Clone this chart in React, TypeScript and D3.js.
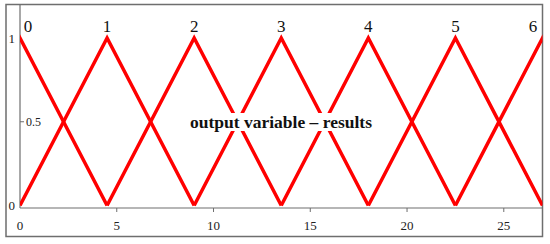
import React, { useRef, useEffect } from "react";
import * as d3 from "d3";

// membership function terms: left foot, peak, right foot
const termLabels = ["0", "1", "2", "3", "4", "5", "6"];
const termLeft = [-4.5, 0, 4.5, 9, 13.5, 18, 22.5];
const termPeak = [0, 4.5, 9, 13.5, 18, 22.5, 27];
const termRight = [4.5, 9, 13.5, 18, 22.5, 27, 31.5];

const xTicks = [0, 5, 10, 15, 20, 25];
const yTicks = [0, 0.5, 1];
const xDomain = [0, 27];
const yDomain = [0, 1];
const centerTitle = "output variable \u2013 results";

function App() {
  const ref = useRef<SVGSVGElement>(null);

  useEffect(() => {
    const svg = d3.select(ref.current);
    svg.selectAll("*").remove();

    const left = 20, right = 542.5, top = 38, bottom = 205.5;
    const x = d3.scaleLinear().domain(xDomain).range([left, right]);
    const y = d3.scaleLinear().domain(yDomain).range([bottom, top]);
    const frameColor = "#6e6e6e";
    const serif = "'Times New Roman', 'Liberation Serif', serif";

    // outer frame
    svg.append("rect")
      .attr("x", 6).attr("y", 4.5)
      .attr("width", 536.5).attr("height", 232)
      .attr("fill", "white")
      .attr("stroke", frameColor).attr("stroke-width", 1.5);

    svg.append("clipPath").attr("id", "plotclip")
      .append("rect")
      .attr("x", left).attr("y", 0)
      .attr("width", right - left).attr("height", 240);

    // y axis
    svg.append("line")
      .attr("x1", left).attr("x2", left)
      .attr("y1", 4.5).attr("y2", 208)
      .attr("stroke", frameColor).attr("stroke-width", 1.2);

    // x axis
    svg.append("line")
      .attr("x1", left).attr("x2", right)
      .attr("y1", 208).attr("y2", 208)
      .attr("stroke", frameColor).attr("stroke-width", 1.2);

    svg.selectAll(".xtick")
      .data(xTicks.filter((d) => d > 0))
      .enter()
      .append("line")
      .attr("x1", (d) => x(d)).attr("x2", (d) => x(d))
      .attr("y1", 208).attr("y2", 212)
      .attr("stroke", frameColor).attr("stroke-width", 1);

    svg.selectAll(".xlab")
      .data(xTicks)
      .enter()
      .append("text")
      .attr("x", (d) => x(d))
      .attr("y", 230)
      .attr("text-anchor", "middle")
      .style("font-family", serif)
      .style("font-size", "13px")
      .attr("fill", "#222")
      .text((d) => d);

    // y tick labels (0.5 sits to the right of the axis)
    yTicks.forEach((d) => {
      if (d === 0.5) {
        svg.append("line")
          .attr("x1", left).attr("x2", left + 4)
          .attr("y1", y(d)).attr("y2", y(d))
          .attr("stroke", frameColor).attr("stroke-width", 1);
        svg.append("text")
          .attr("x", left + 6).attr("y", y(d) + 4)
          .style("font-family", serif).style("font-size", "12px")
          .attr("fill", "#222")
          .text(d);
      } else {
        svg.append("text")
          .attr("x", left - 5).attr("y", y(d) + 4.5)
          .attr("text-anchor", "end")
          .style("font-family", serif).style("font-size", "13px")
          .attr("fill", "#222")
          .text(d);
      }
    });

    // triangles
    const line = d3.line<[number, number]>()
      .x((d) => x(d[0]))
      .y((d) => y(d[1]));

    const g = svg.append("g").attr("clip-path", "url(#plotclip)");
    termPeak.forEach((p, i) => {
      const pts: [number, number][] = [
        [termLeft[i], 0],
        [p, 1],
        [termRight[i], 0],
      ];
      g.append("path")
        .attr("d", line(pts))
        .attr("fill", "none")
        .attr("stroke", "#ff0000")
        .attr("stroke-width", 3.5)
        .attr("stroke-linejoin", "miter");
    });

    // term labels above peaks
    svg.selectAll(".term")
      .data(termLabels)
      .enter()
      .append("text")
      .attr("x", (d, i) => Math.min(Math.max(x(termPeak[i]), 28), 533))
      .attr("y", 32)
      .attr("text-anchor", "middle")
      .style("font-family", serif)
      .style("font-size", "17px")
      .attr("fill", "#111")
      .text((d) => d);

    // centre title on a white patch over the lines
    const bg = svg.append("rect").attr("fill", "white");
    const title = svg.append("text")
      .attr("x", 281)
      .attr("y", 128)
      .attr("text-anchor", "middle")
      .style("font-family", serif)
      .style("font-size", "17.5px")
      .style("font-weight", "bold")
      .attr("fill", "#111")
      .text(centerTitle);
    const bb = (title.node() as SVGTextElement).getBBox();
    bg.attr("x", bb.x - 1).attr("y", bb.y + 1)
      .attr("width", bb.width + 2).attr("height", bb.height - 2);
  });

  return (
    <svg
      ref={ref}
      width={550}
      height={244}
      style={{ position: "absolute", left: 0, top: 0 }}
    ></svg>
  );
}

export default App;
